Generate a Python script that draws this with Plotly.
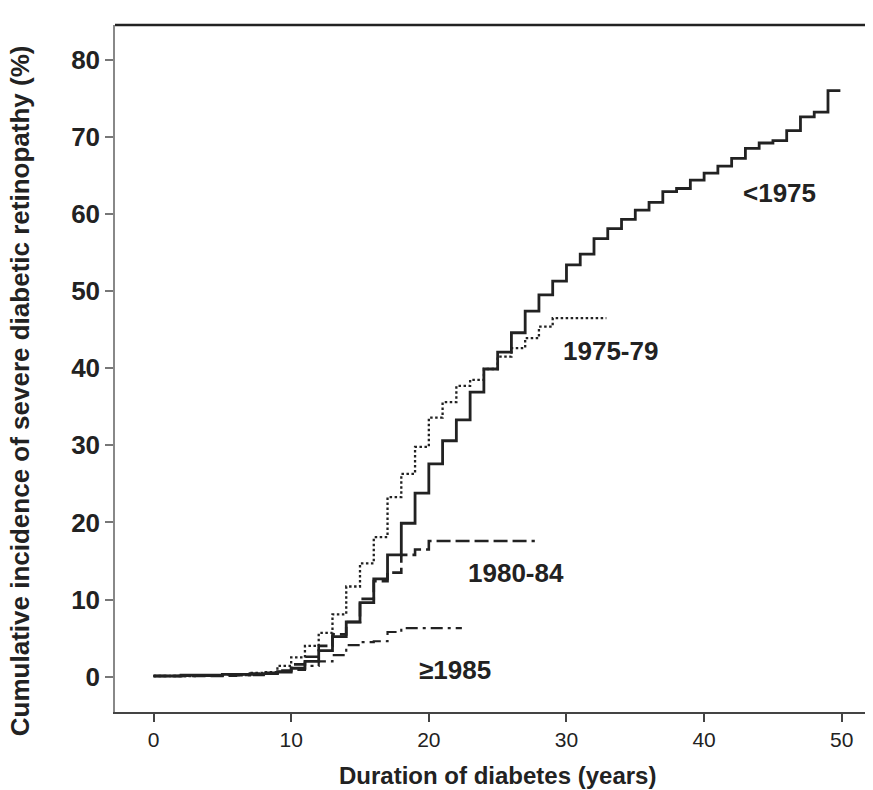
import plotly.graph_objects as go

# ---- data (step start times in years, cumulative incidence %) ----
t_pre1975 = [0, 2, 5, 8, 9, 10, 11, 12, 13, 14, 15, 16, 17, 18, 19, 20, 21, 22, 23, 24,
             25, 26, 27, 28, 29, 30, 31, 32, 33, 34, 35, 36, 37, 38, 39, 40, 41, 42, 43,
             44, 45, 46, 47, 48, 49, 49.9]
v_pre1975 = [0.1, 0.2, 0.3, 0.4, 0.6, 1.1, 2.0, 3.4, 5.2, 7.1, 9.6, 12.7, 15.8, 19.9, 23.8,
             27.6, 30.6, 33.3, 36.9, 39.9, 42.1, 44.6, 47.4, 49.5, 51.3, 53.4, 54.8, 56.8,
             58.1, 59.3, 60.5, 61.5, 62.9, 63.3, 64.4, 65.3, 66.2, 67.2, 68.5, 69.2, 69.5,
             70.8, 72.6, 73.2, 76.0, 76.0]

t_1975_79 = [0, 3, 5, 7, 8, 9, 10, 11, 12, 13, 14, 15, 16, 17, 18, 19, 20, 21, 22, 23, 24,
             25, 26, 27, 28, 29, 32.9]
v_1975_79 = [0.1, 0.2, 0.3, 0.5, 0.6, 1.4, 2.5, 4.0, 5.7, 8.1, 11.7, 14.7, 18.1, 23.3, 26.3,
             29.8, 33.6, 35.6, 37.7, 38.5, 39.9, 41.5, 42.6, 43.9, 45.4, 46.5, 46.5]

t_1980_84 = [0, 5, 7, 8, 9, 10, 11, 12, 13, 14, 15, 16, 17, 18, 19, 20, 27.7]
v_1980_84 = [0.1, 0.2, 0.4, 0.5, 0.8, 1.6, 2.6, 4.0, 5.5, 7.1, 10.1, 12.4, 13.5, 15.8,
             16.5, 17.6, 17.6]

t_post1985 = [0, 6, 8, 9, 10, 11, 12, 13, 14, 15, 16, 17, 18, 22.4]
v_post1985 = [0.1, 0.2, 0.4, 0.7, 0.9, 1.4, 2.0, 2.8, 4.1, 4.5, 4.6, 5.8, 6.3, 6.3]

labels = ["<1975", "1975-79", "1980-84", "≥1985"]
label_x = [45.5, 33.2, 26.3, 21.9]
label_y = [62.7, 42.2, 13.4, 0.85]

x_ticks = [0, 10, 20, 30, 40, 50]
y_ticks = [0, 10, 20, 30, 40, 50, 60, 70, 80]

INK = "#222222"
FONT = "Liberation Sans, Arial, sans-serif"

fig = go.Figure()
fig.add_trace(go.Scatter(x=t_post1985, y=v_post1985, mode="lines", line_shape="hv",
                         line=dict(color=INK, width=2.2, dash="12px,5px,3px,5px"),
                         showlegend=False))
fig.add_trace(go.Scatter(x=t_1980_84, y=v_1980_84, mode="lines", line_shape="hv",
                         line=dict(color=INK, width=2.6, dash="14px,5px"),
                         showlegend=False))
fig.add_trace(go.Scatter(x=t_1975_79, y=v_1975_79, mode="lines", line_shape="hv",
                         line=dict(color=INK, width=2.3, dash="2.5px,2.5px"),
                         showlegend=False))
fig.add_trace(go.Scatter(x=t_pre1975, y=v_pre1975, mode="lines", line_shape="hv",
                         line=dict(color=INK, width=2.8),
                         showlegend=False))

for txt, lx, ly in zip(labels, label_x, label_y):
    fig.add_annotation(x=lx, y=ly, xref="x", yref="y", text=txt, showarrow=False,
                       font=dict(family=FONT, size=26, color=INK, weight="bold"),
                       xanchor="center", yanchor="middle")

# axis titles as annotations
fig.add_annotation(x=0.5046, y=-0.092, xref="paper", yref="paper",
                   text="Duration of diabetes (years)", showarrow=False,
                   font=dict(family=FONT, size=24, color=INK, weight="bold"),
                   xanchor="center", yanchor="middle", borderpad=0)
fig.add_annotation(x=-0.1253, y=0.467, xref="paper", yref="paper",
                   text="Cumulative incidence of severe diabetic retinopathy (%)",
                   showarrow=False, textangle=-90,
                   font=dict(family=FONT, size=26, color=INK, weight="bold"),
                   xanchor="center", yanchor="middle", borderpad=0)

# top frame line
fig.add_shape(type="line", xref="paper", yref="paper", x0=0, x1=1, y0=1, y1=1,
              line=dict(color=INK, width=2.5))

# the page adds an 8px body margin, so the figure is laid out 8px smaller/earlier
fig.update_layout(
    width=865, height=782,
    margin=dict(l=107, r=0, t=17, b=78),
    paper_bgcolor="white", plot_bgcolor="white",
    font=dict(family=FONT, color=INK),
    xaxis=dict(range=[-2.8, 52.27], tickvals=x_ticks, showgrid=False, zeroline=False,
               showline=True, linecolor="#444444", linewidth=1.5,
               ticks="outside", ticklen=8, tickwidth=1.5, tickcolor="#444444",
               tickfont=dict(family=FONT, size=21, color=INK)),
    yaxis=dict(range=[-4.57, 84.5], tickvals=y_ticks, showgrid=False, zeroline=False,
               showline=True, linecolor="#888888", linewidth=1.5,
               ticks="outside", ticklen=8, tickwidth=1.5, tickcolor="#777777",
               tickfont=dict(family=FONT, size=26, color=INK, weight="bold")),
)

fig.write_html("out.html")
